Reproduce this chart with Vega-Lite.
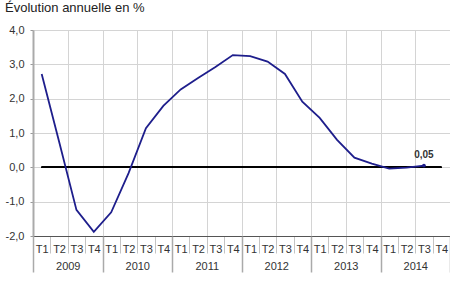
{
  "$schema": "https://vega.github.io/schema/vega-lite/v6.json",
  "width": 417,
  "height": 206,
  "autosize": "none",
  "padding": {"left": 33, "top": 30, "right": 0, "bottom": 55},
  "background": "white",
  "title": {"text": "Évolution annuelle en %", "anchor": "start", "dx": 0, "offset": 9, "fontSize": 13, "font": "Liberation Sans", "fontWeight": "normal", "color": "#222222"},
  "config": {"view": {"stroke": null}, "font": "Liberation Sans", "axis": {"labelOverlap": false, "labelFlush": false, "labelSeparation": 0},
    "axisY": {"values": [-2, -1, 0, 1, 2, 3, 4], "labelExpr": "datum.value + ',0'", "labelFontSize": 11, "labelColor": "#333333", "labelPadding": 6, "labelOverlap": false, "labelFlush": false,
            "tickSize": 3, "tickColor": "#999999", "domain": true, "domainColor": "#aaaaaa", "domainWidth": 2,
            "grid": true, "gridColor": "#d4d4d4", "gridWidth": 1, "title": null}},
  "data": {"values": [
    {"i": 0, "annee": 2009, "trim": "T1", "v": 2.72},
    {"i": 1, "annee": 2009, "trim": "T2", "v": 0.75},
    {"i": 2, "annee": 2009, "trim": "T3", "v": -1.24},
    {"i": 3, "annee": 2009, "trim": "T4", "v": -1.88},
    {"i": 4, "annee": 2010, "trim": "T1", "v": -1.31},
    {"i": 5, "annee": 2010, "trim": "T2", "v": -0.17},
    {"i": 6, "annee": 2010, "trim": "T3", "v": 1.14},
    {"i": 7, "annee": 2010, "trim": "T4", "v": 1.79},
    {"i": 8, "annee": 2011, "trim": "T1", "v": 2.27},
    {"i": 9, "annee": 2011, "trim": "T2", "v": 2.6},
    {"i": 10, "annee": 2011, "trim": "T3", "v": 2.92},
    {"i": 11, "annee": 2011, "trim": "T4", "v": 3.27},
    {"i": 12, "annee": 2012, "trim": "T1", "v": 3.24},
    {"i": 13, "annee": 2012, "trim": "T2", "v": 3.08},
    {"i": 14, "annee": 2012, "trim": "T3", "v": 2.72},
    {"i": 15, "annee": 2012, "trim": "T4", "v": 1.91},
    {"i": 16, "annee": 2013, "trim": "T1", "v": 1.44},
    {"i": 17, "annee": 2013, "trim": "T2", "v": 0.8},
    {"i": 18, "annee": 2013, "trim": "T3", "v": 0.28},
    {"i": 19, "annee": 2013, "trim": "T4", "v": 0.11},
    {"i": 20, "annee": 2014, "trim": "T1", "v": -0.04},
    {"i": 21, "annee": 2014, "trim": "T2", "v": -0.01},
    {"i": 22, "annee": 2014, "trim": "T3", "v": 0.05, "label": "0,05"}
  ]},
  "layer": [
    {
      "mark": {"type": "rule", "color": "black", "strokeWidth": 1},
      "encoding": {
        "x": {"datum": 0, "type": "quantitative", "scale": {"domain": [-0.5, 23.5], "nice": false, "zero": false},
          "axis": {"orient": "bottom", "values": [-0.5, 1.5, 3.5, 5.5, 7.5, 9.5, 11.5, 13.5, 15.5, 17.5, 19.5, 21.5, 23.5], "grid": true, "gridColor": "#d4d4d4", "gridWidth": 1, "labels": false, "ticks": false, "domain": false, "title": null, "zindex": 0}},
        "x2": {"datum": 23},
        "y": {"datum": 0, "type": "quantitative", "scale": {"domain": [-2, 4], "nice": false, "zero": false}}
      }
    },
    {
      "mark": {"type": "line", "color": "#1e1e8c", "strokeWidth": 1.8},
      "encoding": {
        "x": {"field": "i", "type": "quantitative",
          "axis": {"orient": "bottom", "values": [-0.5, 0.5, 1.5, 2.5, 3.5, 4.5, 5.5, 6.5, 7.5, 8.5, 9.5, 10.5, 11.5, 12.5, 13.5, 14.5, 15.5, 16.5, 17.5, 18.5, 19.5, 20.5, 21.5, 22.5, 23.5],
            "labelExpr": "datum.value < 23 ? 'T' + ((datum.value + 0.5) % 4 + 1) : ''",
            "labelOffset": 8.69, "labelPadding": -10, "labelFontSize": 11, "labelColor": "#333333", "labelOverlap": false, "labelFlush": false, "labelBound": false,
            "tickSize": 17, "tickColor": "#c4c4c4", "tickWidth": 1,
            "domain": true, "domainColor": "#555555", "domainWidth": 1,
            "grid": false, "title": null}},
        "y": {"field": "v", "type": "quantitative"}
      }
    },
    {
      "mark": {"type": "point", "filled": true, "color": "#1e1e8c", "size": 14, "opacity": 1},
      "transform": [{"filter": "datum.label"}],
      "encoding": {
        "x": {"field": "i", "type": "quantitative",
          "axis": {"orient": "bottom", "values": [-0.5, 3.5, 7.5, 11.5, 15.5, 19.5, 23.5],
            "labelExpr": "datum.value < 23 ? toString(2009 + (datum.value + 0.5) / 4) : ''",
            "labelOffset": 34.75, "labelPadding": -12, "labelFontSize": 11, "labelColor": "#333333", "labelOverlap": false, "labelFlush": false, "labelBound": false,
            "tickSize": 36, "tickColor": "#aaaaaa", "tickWidth": 1.5,
            "domain": false, "grid": false, "title": null}},
        "y": {"field": "v", "type": "quantitative"}
      }
    },
    {
      "mark": {"type": "text", "fontSize": 10, "fontWeight": "bold", "color": "#333333", "dy": -11},
      "transform": [{"filter": "datum.label"}],
      "encoding": {
        "x": {"field": "i", "type": "quantitative", "axis": null},
        "y": {"field": "v", "type": "quantitative"},
        "text": {"field": "label"}
      }
    }
  ],
  "resolve": {"axis": {"x": "independent"}}
}
